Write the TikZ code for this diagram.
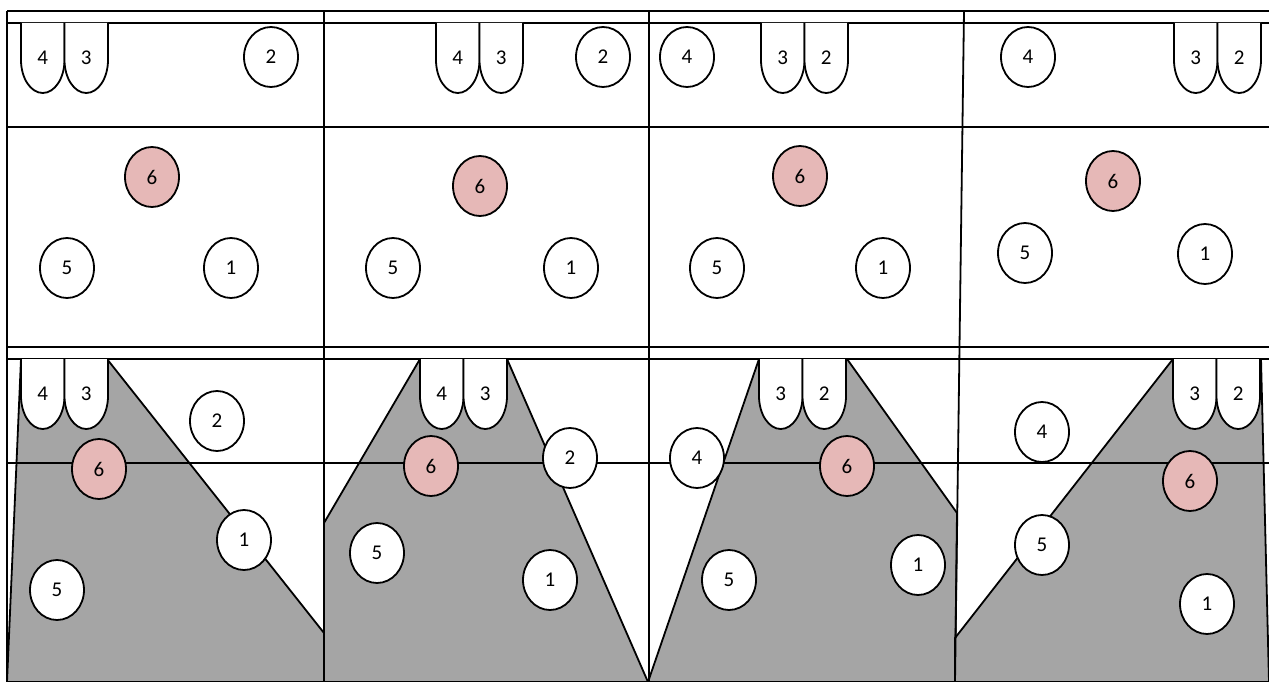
\documentclass[tikz,border=0pt]{standalone}
\usepackage{fontspec}
\setmainfont{Carlito}
\usetikzlibrary{shapes.geometric}
\definecolor{pinkc}{HTML}{E6B8B7}
\definecolor{grayc}{HTML}{A5A5A5}
\newcommand\labfont{\fontsize{21}{21}\selectfont}
\newcommand\tooth[4]{% left x, top y, label, name
  \draw[fill=white] (#1,#2) -- (#1,#2+37) arc[start angle=180, end angle=0, x radius=21.75, y radius=33] -- (#1+43.5,#2);
  \node[lab] (#4) at (#1+21.75,#2+35) {#3};}
\begin{document}
\begin{tikzpicture}[x=1pt,y=-1pt,line width=1.8pt,
  ball/.style={ellipse,draw,fill=white,minimum width=54pt,minimum height=60pt,inner sep=0pt,font=\labfont},
  redball/.style={ball,fill=pinkc},
  lab/.style={inner sep=0pt,font=\labfont},
  zone/.style={fill=grayc,draw}]
\useasboundingbox (0,0) rectangle (1269,682);
\fill[white] (0,0) rectangle (1269,682);
% gray zones
\draw[zone] (21,359) -- (107,359) -- (324,633) -- (324,682) -- (7,682) -- cycle;
\draw[zone] (324,523) -- (420,359) -- (507,359) -- (648,682) -- (324,682) -- cycle;
\draw[zone] (648,682) -- (759,359) -- (847,359) -- (957,513) -- (955,682) -- cycle;
\draw[zone] (955,638) -- (1173,359) -- (1261,359) -- (1269,682) -- (955,682) -- cycle;
% grid
\foreach \y in {11,23,127,347,359,463} \draw (7,\y) -- (1269,\y);
\draw (7,11) -- (7,682);
\draw (324,11) -- (324,682);
\draw (649,11) -- (649,682);
\draw (964,11) -- (955,682);
% top teeth
\tooth{21}{23}{4}{ta4}\tooth{64.5}{23}{3}{ta3}
\tooth{436}{23}{4}{tb4}\tooth{479.5}{23}{3}{tb3}
\tooth{761}{23}{3}{tc3}\tooth{804.5}{23}{2}{tc2}
\tooth{1174}{23}{3}{td3}\tooth{1217.5}{23}{2}{td2}
% bottom teeth
\tooth{21}{359}{4}{ba4}\tooth{64.5}{359}{3}{ba3}
\tooth{420}{359}{4}{bb4}\tooth{463.5}{359}{3}{bb3}
\tooth{759}{359}{3}{bc3}\tooth{802.5}{359}{2}{bc2}
\tooth{1173}{359}{3}{bd3}\tooth{1216.5}{359}{2}{bd2}
% top balls
\node[ball] (a2) at (271,57) {2};
\node[ball] (b2) at (603,57) {2};
\node[ball] (c4) at (687,57) {4};
\node[ball] (d4) at (1028,57) {4};
% middle balls
\node[redball] (ma6) at (152,177) {6};
\node[ball] (ma5) at (67,268) {5};
\node[ball] (ma1) at (231,268) {1};
\node[redball] (mb6) at (480,186) {6};
\node[ball] (mb5) at (393,268) {5};
\node[ball] (mb1) at (571,268) {1};
\node[redball] (mc6) at (800,176) {6};
\node[ball] (mc5) at (717,268) {5};
\node[ball] (mc1) at (883,268) {1};
\node[redball] (md6) at (1113,181) {6};
\node[ball] (md5) at (1025,253) {5};
\node[ball] (md1) at (1205,254) {1};
% bottom balls
\node[ball] (la2) at (217,421) {2};
\node[redball] (la6) at (99,469) {6};
\node[ball] (la1) at (244,540) {1};
\node[ball] (la5) at (57,590) {5};
\node[ball] (lb2) at (570,458) {2};
\node[redball] (lb6) at (431,466) {6};
\node[ball] (lb5) at (377,553) {5};
\node[ball] (lb1) at (550,580) {1};
\node[ball] (lc4) at (697,458) {4};
\node[redball] (lc6) at (847,466) {6};
\node[ball] (lc5) at (729,580) {5};
\node[ball] (lc1) at (918,565) {1};
\node[ball] (ld4) at (1042,432) {4};
\node[redball] (ld6) at (1190,481) {6};
\node[ball] (ld5) at (1042,545) {5};
\node[ball] (ld1) at (1207,604) {1};
\end{tikzpicture}
\end{document}
